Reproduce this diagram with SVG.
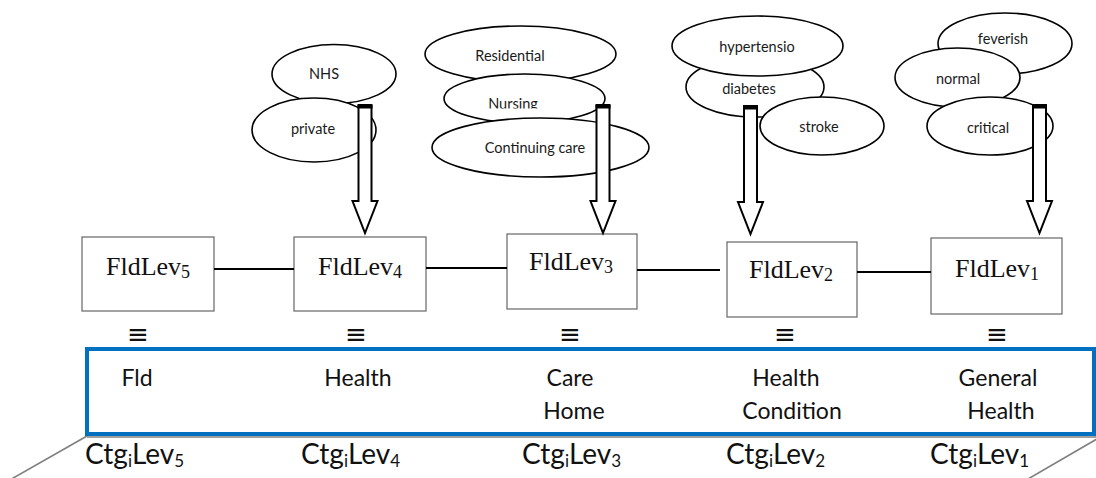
<svg xmlns="http://www.w3.org/2000/svg" width="1096" height="478" viewBox="0 0 1096 478">
  <style>
    .val { fill: #fff; stroke: #000; stroke-width: 1.6; }
    .vtxt { font-family: Lato, "Open Sans", sans-serif; font-size: 14.5px; fill: #1a1a1a; text-anchor: middle; }
    .lvl { fill: #fff; stroke: #666; stroke-width: 1.2; }
    .ltxt { font-family: "Liberation Serif", "DejaVu Serif", serif; font-size: 26px; fill: #111; }
    .sub { font-size: 18px; }
    .equiv { font-family: "DejaVu Sans", sans-serif; font-size: 26px; fill: #111; text-anchor: middle; }
    .cat { font-family: Lato, "Open Sans", sans-serif; font-size: 23px; fill: #111; text-anchor: middle; }
    .ctg { font-family: Lato, "Open Sans", sans-serif; font-size: 28px; fill: #111; }
    .csub { font-size: 17px; }
    .link { stroke: #000; stroke-width: 2; fill: none; }
    .arrow { fill: #fff; stroke: #000; stroke-width: 2; stroke-linejoin: miter; }
    .plane { stroke: #7f7f7f; stroke-width: 1.6; fill: none; }
  </style>
  <defs>
    <!-- hollow block arrow, pointing down, origin at top centre of the shaft -->
    <g id="blockArrow">
      <polygon class="arrow" points="-6.5,0 6.5,0 6.5,95 12.5,95 0,127 -12.5,95 -6.5,95"/>
      <rect x="-7.5" y="-2" width="15" height="4.5" fill="#000"/>
    </g>
    <clipPath id="nursingClip">
      <rect x="440" y="80" width="170" height="28.5"/>
    </clipPath>
  </defs>

  <!-- values of FldLev4 -->
  <g id="val-nhs">
    <ellipse class="val" cx="334" cy="74" rx="62" ry="29.5"/>
    <text class="vtxt" x="324" y="79">NHS</text>
  </g>
  <g id="val-private">
    <ellipse class="val" cx="314" cy="130" rx="62" ry="32"/>
    <text class="vtxt" x="313" y="134">private</text>
  </g>

  <!-- values of FldLev3 -->
  <g id="val-residential">
    <ellipse class="val" cx="520.5" cy="54" rx="95.5" ry="28"/>
    <text class="vtxt" x="510" y="61">Residential</text>
  </g>
  <g id="val-nursing">
    <ellipse class="val" cx="524.5" cy="98.5" rx="80.5" ry="24.5"/>
    <text class="vtxt" x="513" y="109" clip-path="url(#nursingClip)">Nursing</text>
  </g>
  <g id="val-continuing">
    <ellipse class="val" cx="540.5" cy="147.5" rx="108.5" ry="29.5"/>
    <text class="vtxt" x="535" y="153">Continuing care</text>
  </g>

  <!-- values of FldLev2 -->
  <g id="val-diabetes">
    <ellipse class="val" cx="755" cy="87" rx="69" ry="30"/>
    <text class="vtxt" x="749" y="94">diabetes</text>
  </g>
  <g id="val-hypertension">
    <ellipse class="val" cx="757.5" cy="46" rx="85.5" ry="30"/>
    <text class="vtxt" x="757" y="52">hypertensio</text>
  </g>
  <g id="val-stroke">
    <ellipse class="val" cx="822" cy="126" rx="62" ry="29"/>
    <text class="vtxt" x="819" y="132">stroke</text>
  </g>

  <!-- values of FldLev1 -->
  <g id="val-feverish">
    <ellipse class="val" cx="1005" cy="43.5" rx="67" ry="30.5"/>
    <text class="vtxt" x="1003" y="44">feverish</text>
  </g>
  <g id="val-normal">
    <ellipse class="val" cx="957.5" cy="77.5" rx="62.5" ry="29.5"/>
    <text class="vtxt" x="958" y="84">normal</text>
  </g>
  <g id="val-critical">
    <ellipse class="val" cx="990" cy="126" rx="63" ry="29"/>
    <text class="vtxt" x="988" y="133">critical</text>
  </g>

  <!-- field levels -->
  <g id="fldlev5">
    <rect class="lvl" x="82" y="237" width="132" height="74"/>
    <text class="ltxt" x="106" y="275">FldLev<tspan class="sub" dy="3">5</tspan></text>
  </g>
  <g id="fldlev4">
    <rect class="lvl" x="294" y="237" width="132" height="74"/>
    <text class="ltxt" x="318" y="275">FldLev<tspan class="sub" dy="3">4</tspan></text>
  </g>
  <g id="fldlev3">
    <rect class="lvl" x="507" y="234" width="130" height="75"/>
    <text class="ltxt" x="529" y="270">FldLev<tspan class="sub" dy="3">3</tspan></text>
  </g>
  <g id="fldlev2">
    <rect class="lvl" x="727" y="242" width="130" height="75"/>
    <text class="ltxt" x="749" y="278">FldLev<tspan class="sub" dy="3">2</tspan></text>
  </g>
  <g id="fldlev1">
    <rect class="lvl" x="931" y="238" width="131" height="76"/>
    <text class="ltxt" x="955" y="277">FldLev<tspan class="sub" dy="3">1</tspan></text>
  </g>

  <!-- equivalence marks -->
  <g id="equivalences">
    <text class="equiv" x="138" y="343">≡</text>
    <text class="equiv" x="356" y="343">≡</text>
    <text class="equiv" x="570" y="343">≡</text>
    <text class="equiv" x="785" y="343">≡</text>
    <text class="equiv" x="997" y="343">≡</text>
  </g>

  <!-- category plane -->
  <g id="category-plane">
    <line class="plane" x1="87" y1="437" x2="1096" y2="437"/>
    <line class="plane" x1="87" y1="436" x2="8" y2="481"/>
    <line class="plane" x1="1102" y1="436" x2="1028" y2="479"/>
    <rect x="87" y="349" width="1007" height="85" fill="none" stroke="#0070c0" stroke-width="4"/>
    <text class="cat" x="137" y="386">Fld</text>
    <text class="cat" x="358" y="386">Health</text>
    <text class="cat" x="570" y="386">Care</text>
    <text class="cat" x="574" y="419">Home</text>
    <text class="cat" x="786" y="386">Health</text>
    <text class="cat" x="792" y="419">Condition</text>
    <text class="cat" x="998" y="386">General</text>
    <text class="cat" x="1001" y="419">Health</text>
  </g>

  <!-- category levels -->
  <g id="ctg-levels">
    <text class="ctg" x="85" y="464">Ctg<tspan class="csub" dy="3">i</tspan><tspan dy="-3">Lev</tspan><tspan class="csub" dy="3">5</tspan></text>
    <text class="ctg" x="301" y="464">Ctg<tspan class="csub" dy="3">i</tspan><tspan dy="-3">Lev</tspan><tspan class="csub" dy="3">4</tspan></text>
    <text class="ctg" x="522" y="464">Ctg<tspan class="csub" dy="3">i</tspan><tspan dy="-3">Lev</tspan><tspan class="csub" dy="3">3</tspan></text>
    <text class="ctg" x="726" y="464">Ctg<tspan class="csub" dy="3">i</tspan><tspan dy="-3">Lev</tspan><tspan class="csub" dy="3">2</tspan></text>
    <text class="ctg" x="930" y="464">Ctg<tspan class="csub" dy="3">i</tspan><tspan dy="-3">Lev</tspan><tspan class="csub" dy="3">1</tspan></text>
  </g>

  <!-- connectors -->
  <g id="connectors">
    <line class="link" x1="214" y1="269" x2="294" y2="269"/>
    <line class="link" x1="426" y1="268" x2="507" y2="268"/>
    <line class="link" x1="637" y1="270" x2="720" y2="270"/>
    <line class="link" x1="857" y1="272" x2="931" y2="272"/>
    <use href="#blockArrow" transform="translate(365,106)"/>
    <use href="#blockArrow" transform="translate(603,106)"/>
    <use href="#blockArrow" transform="translate(750.5,107)"/>
    <use href="#blockArrow" transform="translate(1039.5,106)"/>
  </g>
</svg>
